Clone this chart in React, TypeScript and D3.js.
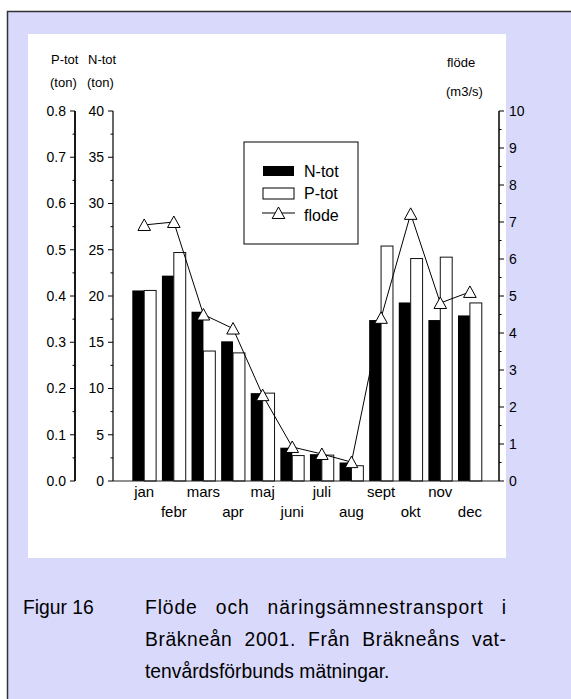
import React from "react";
import * as d3 from "d3";

const months = ["jan", "febr", "mars", "apr", "maj", "juni", "juli", "aug", "sept", "okt", "nov", "dec"];
const nTot = [20.6, 22.2, 18.3, 15.1, 9.5, 3.6, 2.9, 2.0, 17.4, 19.3, 17.4, 17.9];
const pTot = [0.412, 0.494, 0.281, 0.277, 0.19, 0.055, 0.056, 0.033, 0.508, 0.481, 0.484, 0.385];
const flode = [6.92, 7.0, 4.5, 4.12, 2.32, 0.92, 0.73, 0.51, 4.41, 7.22, 4.81, 5.11];
const pTicks = [0, 0.1, 0.2, 0.3, 0.4, 0.5, 0.6, 0.7, 0.8];
const nTicks = [0, 5, 10, 15, 20, 25, 30, 35, 40];
const fTicks = [0, 1, 2, 3, 4, 5, 6, 7, 8, 9, 10];
const legendItems = ["N-tot", "P-tot", "flode"];
const captionLabel = "Figur 16";
const captionLines = [
  "Flöde och näringsämnestransport i",
  "Bräkneån 2001. Från Bräkneåns vat-",
  "tenvårdsförbunds mätningar.",
];

const FONT = "'Liberation Sans', Arial, sans-serif";
const CAP_SIZE = 19.3;

function measure(text: string, size: number): number {
  if (typeof document === "undefined") return text.length * size * 0.5;
  const ctx = document.createElement("canvas").getContext("2d");
  if (!ctx) return text.length * size * 0.5;
  ctx.font = `${size}px 'Liberation Sans', Arial, sans-serif`;
  return ctx.measureText(text).width;
}

function justify(text: string, size: number, width: number) {
  const spaces = (text.match(/ /g) || []).length;
  const extra = Math.max(0, width - measure(text, size));
  const ls = (extra * 0.45) / (text.length - 1);
  const ws = spaces ? (extra * 0.55) / spaces : 0;
  return { letterSpacing: `${ls}px`, wordSpacing: `${ws}px` };
}

export default function App() {
  const W = 571, H = 699;
  const top = 111, bottom = 481;
  const xLeft = 113, xRight = 499, pAxisX = 75;
  const x = d3.scaleLinear().domain([0, 13]).range([114.6, 499.5]);
  const yN = d3.scaleLinear().domain([0, 40]).range([bottom, top]);
  const yP = d3.scaleLinear().domain([0, 0.8]).range([bottom, top]);
  const yF = d3.scaleLinear().domain([0, 10]).range([bottom, top]);
  const barW = 11.9;

  const line = d3
    .line<number>()
    .x((_, i) => x(i + 1))
    .y((d) => yF(d));

  const tri = (cx: number, cy: number) =>
    `M${cx},${cy - 6}L${cx + 6.3},${cy + 5.5}L${cx - 6.3},${cy + 5.5}Z`;

  const minorP = d3.range(0.05, 0.8, 0.1);
  const minorN = d3.range(2.5, 40, 5);
  const minorF = d3.range(0.5, 10, 1);

  const capX = 145, capW = 361;
  const j0 = justify(captionLines[0], CAP_SIZE, capW);
  const j1 = justify(captionLines[1], CAP_SIZE, capW);

  return (
    <svg
      width={W}
      height={H}
      style={{ position: "absolute", left: 0, top: 0 }}
      fontFamily={FONT}
    >
      <rect x={0} y={0} width={W} height={H} fill="#ffffff" />
      <rect x={7.5} y={11.5} width={W} height={H} fill="#d9d9fb" stroke="#333" strokeWidth={1.5} />
      <rect x={28} y={34} width={478} height={524} fill="#ffffff" />

      {/* axis titles */}
      <g fontSize={13} fill="#000">
        <text x={51} y={64}>P-tot</text>
        <text x={50} y={87}>(ton)</text>
        <text x={88} y={64}>N-tot</text>
        <text x={87} y={87}>(ton)</text>
        <text x={447} y={67}>flöde</text>
        <text x={446} y={96}>(m3/s)</text>
      </g>

      {/* bars */}
      {nTot.map((v, i) => (
        <rect
          key={"n" + i}
          x={x(i + 1) - barW}
          y={yN(v)}
          width={barW}
          height={bottom - yN(v)}
          fill="#000"
        />
      ))}
      {pTot.map((v, i) => (
        <rect
          key={"p" + i}
          x={x(i + 1)}
          y={yP(v)}
          width={barW}
          height={bottom - yP(v)}
          fill="#fff"
          stroke="#111"
          strokeWidth={1}
        />
      ))}

      {/* baseline */}
      <line x1={xLeft} x2={xRight} y1={bottom} y2={bottom} stroke="#222" strokeWidth={1.2} />

      {/* P-tot axis */}
      <line x1={pAxisX} x2={pAxisX} y1={top} y2={bottom} stroke="#000" strokeWidth={1.8} />
      {pTicks.map((t) => (
        <g key={"pt" + t}>
          <line x1={pAxisX - 5} x2={pAxisX} y1={yP(t)} y2={yP(t)} stroke="#000" strokeWidth={1} />
          <text x={pAxisX - 9} y={yP(t)} dy="0.35em" textAnchor="end" fontSize={14}>
            {t.toFixed(1)}
          </text>
        </g>
      ))}
      {minorP.map((t) => (
        <line key={"pm" + t} x1={pAxisX - 2.5} x2={pAxisX} y1={yP(t)} y2={yP(t)} stroke="#000" strokeWidth={1} />
      ))}

      {/* N-tot axis */}
      <line x1={xLeft} x2={xLeft} y1={top} y2={bottom} stroke="#000" strokeWidth={1.2} />
      {nTicks.map((t) => (
        <g key={"nt" + t}>
          <line x1={xLeft - 5} x2={xLeft} y1={yN(t)} y2={yN(t)} stroke="#000" strokeWidth={1} />
          <text x={xLeft - 9} y={yN(t)} dy="0.35em" textAnchor="end" fontSize={14}>
            {t}
          </text>
        </g>
      ))}
      {minorN.map((t) => (
        <line key={"nm" + t} x1={xLeft - 2.5} x2={xLeft} y1={yN(t)} y2={yN(t)} stroke="#000" strokeWidth={1} />
      ))}

      {/* flow axis */}
      <line x1={xRight} x2={xRight} y1={top} y2={bottom} stroke="#000" strokeWidth={1.5} />
      {fTicks.map((t) => (
        <g key={"ft" + t}>
          <line x1={xRight} x2={xRight + 5} y1={yF(t)} y2={yF(t)} stroke="#000" strokeWidth={1} />
          <text x={xRight + 10} y={yF(t)} dy="0.35em" textAnchor="start" fontSize={14}>
            {t}
          </text>
        </g>
      ))}
      {minorF.map((t) => (
        <line key={"fm" + t} x1={xRight} x2={xRight + 2.5} y1={yF(t)} y2={yF(t)} stroke="#000" strokeWidth={1} />
      ))}

      {/* month labels */}
      {months.map((m, i) => (
        <text
          key={m}
          x={x(i + 1)}
          y={i % 2 === 0 ? 497 : 517}
          textAnchor="middle"
          fontSize={15}
        >
          {m}
        </text>
      ))}

      {/* flow line */}
      <path d={line(flode) || ""} fill="none" stroke="#000" strokeWidth={1} />
      {flode.map((v, i) => (
        <path key={"tr" + i} d={tri(x(i + 1), yF(v))} fill="#fff" stroke="#000" strokeWidth={1} />
      ))}

      {/* legend */}
      <rect x={244} y={142} width={114} height={102} fill="#fff" stroke="#000" strokeWidth={1} />
      <rect x={263} y={166} width={31} height={10} fill="#000" />
      <rect x={263} y={188} width={31} height={11} fill="#fff" stroke="#000" strokeWidth={1} />
      <line x1={262} x2={295} y1={213} y2={213} stroke="#000" strokeWidth={1} />
      <path d={tri(278.5, 213)} fill="#fff" stroke="#000" strokeWidth={1} />
      <g fontSize={16}>
        <text x={304} y={177}>{legendItems[0]}</text>
        <text x={304} y={199}>{legendItems[1]}</text>
        <text x={304} y={221}>{legendItems[2]}</text>
      </g>

      {/* caption */}
      <g fontSize={CAP_SIZE} fill="#000">
        <text x={23} y={614}>{captionLabel}</text>
        <text x={capX} y={614} style={j0}>{captionLines[0]}</text>
        <text x={capX} y={646} style={j1}>{captionLines[1]}</text>
        <text x={capX} y={678}>{captionLines[2]}</text>
      </g>
    </svg>
  );
}
